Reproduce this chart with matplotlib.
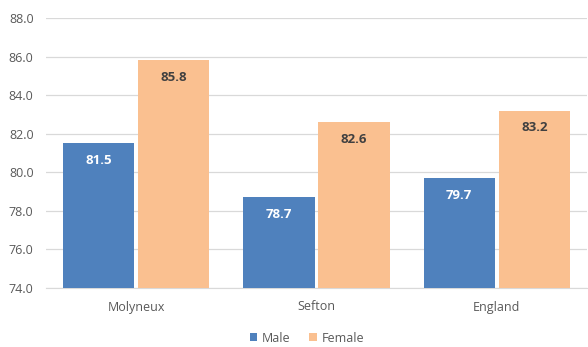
import matplotlib
matplotlib.use("Agg")
import matplotlib.pyplot as plt
import numpy as np

categories = ["Molyneux", "Sefton", "England"]
male = [81.5, 78.7, 79.7]
female = [85.8, 82.6, 83.2]
yticks = [74.0, 76.0, 78.0, 80.0, 82.0, 84.0, 86.0, 88.0]

plt.rcParams['font.family'] = ['Open Sans', 'DejaVu Sans']
fig = plt.figure(figsize=(5.88, 3.47), dpi=100)
ax = fig.add_axes([46/588, 1-288/347, 541/588, 270/347])

x = np.arange(len(categories))
w = 0.395
gap = 0.011
mc = "#4F81BD"
fc = "#FAC090"
b1 = ax.bar(x - w/2 - gap, male, w, color=mc, label="Male", zorder=3)
b2 = ax.bar(x + w/2 + gap, female, w, color=fc, label="Female", zorder=3)

ax.set_ylim(74, 88)
ax.set_xlim(-0.5, 2.5)
ax.set_yticks(yticks)
ax.set_yticklabels([f"{v:.1f}" for v in yticks])
ax.set_xticks(x)
ax.set_xticklabels(categories)
ax.tick_params(axis='both', length=0, labelsize=9, colors="#595959")
ax.tick_params(axis='x', pad=9)
ax.tick_params(axis='y', pad=9)
ax.grid(axis='y', color="#D9D9D9", linewidth=0.9, zorder=0)
for s in ["top", "right", "left"]:
    ax.spines[s].set_visible(False)
ax.spines["bottom"].set_color("#D9D9D9")

for xi, v in zip(x, male):
    ax.annotate(f"{v:.1f}", (xi - w/2 - gap, v), xytext=(0, -12.5), textcoords="offset points",
                ha="center", va="center", color="white", fontweight="bold", fontsize=9.5, zorder=4)
for xi, v in zip(x, female):
    ax.annotate(f"{v:.1f}", (xi + w/2 + gap, v), xytext=(0, -12.5), textcoords="offset points",
                ha="center", va="center", color="#404040", fontweight="bold", fontsize=9.5, zorder=4)

fig.legend(handles=[b1, b2], labels=["Male", "Female"], loc="center", bbox_to_anchor=(307/588, 1-338/347),
           ncol=2, frameon=False, fontsize=9, handlelength=0.6, handleheight=0.6, handletextpad=0.4,
           columnspacing=1.5, labelcolor="#595959")

fig.savefig("out.png", dpi=100)
